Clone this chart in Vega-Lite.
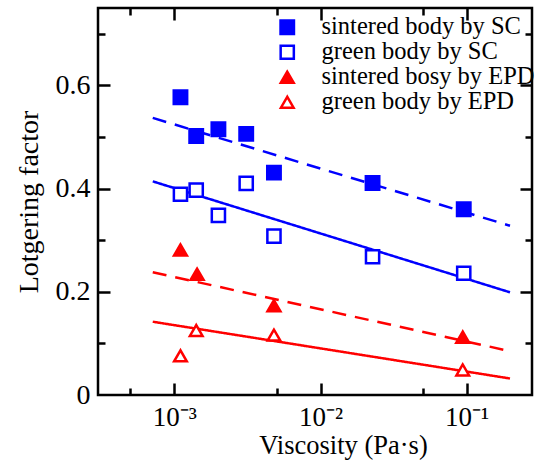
{
  "$schema": "https://vega.github.io/schema/vega-lite/v6.json",
  "width": 434,
  "height": 387,
  "autosize": "none",
  "padding": {"left": 98, "top": 8, "right": 5, "bottom": 71},
  "config": {
    "view": {"stroke": "black", "strokeWidth": 2.5},
    "font": "Liberation Serif",
    "axis": {
      "domain": false,
      "grid": false,
      "labelFont": "Liberation Serif",
      "titleFont": "Liberation Serif",
      "labelColor": "black",
      "titleColor": "black",
      "titleFontWeight": "normal",
      "tickColor": "black",
      "tickWidth": 2.5,
      "labelFlush": false,
      "labelOverlap": false
    },
    "legend": {
      "orient": "none",
      "legendX": 177,
      "legendY": 7,
      "padding": 0,
      "title": null,
      "labelFont": "Liberation Serif",
      "labelFontSize": 24.5,
      "labelColor": "black",
      "labelOffset": 22,
      "rowPadding": 0,
      "symbolStrokeWidth": 2.5,
      "labelLimit": 400
    }
  },
  "datasets": {
    "points": [
      {"series": "sintered body by SC", "viscosity": 0.0011, "factor": 0.577},
      {"series": "sintered body by SC", "viscosity": 0.00141, "factor": 0.502},
      {"series": "sintered body by SC", "viscosity": 0.002, "factor": 0.515},
      {"series": "sintered body by SC", "viscosity": 0.0031, "factor": 0.506},
      {"series": "sintered body by SC", "viscosity": 0.0048, "factor": 0.431},
      {"series": "sintered body by SC", "viscosity": 0.0227, "factor": 0.411},
      {"series": "sintered body by SC", "viscosity": 0.0955, "factor": 0.36},
      {"series": "green body by SC", "viscosity": 0.0011, "factor": 0.389},
      {"series": "green body by SC", "viscosity": 0.00141, "factor": 0.397},
      {"series": "green body by SC", "viscosity": 0.002, "factor": 0.348},
      {"series": "green body by SC", "viscosity": 0.0031, "factor": 0.41},
      {"series": "green body by SC", "viscosity": 0.0048, "factor": 0.308},
      {"series": "green body by SC", "viscosity": 0.0227, "factor": 0.268},
      {"series": "green body by SC", "viscosity": 0.0955, "factor": 0.236},
      {"series": "sintered bosy by EPD", "viscosity": 0.0011, "factor": 0.281},
      {"series": "sintered bosy by EPD", "viscosity": 0.00143, "factor": 0.234},
      {"series": "sintered bosy by EPD", "viscosity": 0.0048, "factor": 0.173},
      {"series": "sintered bosy by EPD", "viscosity": 0.094, "factor": 0.112},
      {"series": "green body by EPD", "viscosity": 0.0011, "factor": 0.076},
      {"series": "green body by EPD", "viscosity": 0.00141, "factor": 0.125},
      {"series": "green body by EPD", "viscosity": 0.0048, "factor": 0.116},
      {"series": "green body by EPD", "viscosity": 0.094, "factor": 0.0485}
    ],
    "fits": [
      {"method": "SC", "body": "sintered", "viscosity": 0.000711, "factor": 0.537},
      {"method": "SC", "body": "sintered", "viscosity": 0.198, "factor": 0.328},
      {"method": "SC", "body": "green", "viscosity": 0.000711, "factor": 0.414},
      {"method": "SC", "body": "green", "viscosity": 0.198, "factor": 0.199},
      {"method": "EPD", "body": "sintered", "viscosity": 0.000711, "factor": 0.238},
      {"method": "EPD", "body": "sintered", "viscosity": 0.198, "factor": 0.085},
      {"method": "EPD", "body": "green", "viscosity": 0.000711, "factor": 0.142},
      {"method": "EPD", "body": "green", "viscosity": 0.198, "factor": 0.032}
    ]
  },
  "layer": [
    {
      "data": {"name": "fits"},
      "mark": {"type": "line", "strokeWidth": 2.5},
      "encoding": {
        "x": {
          "field": "viscosity", "type": "quantitative",
          "scale": {"type": "log", "domain": [0.0003, 0.28], "nice": false},
          "axis": {
            "orient": "bottom", "values": [0.001, 0.01, 0.1], "ticks": false,
            "labelExpr": "datum.value < 0.005 ? '10⁻³' : (datum.value < 0.05 ? '10⁻²' : '10⁻¹')",
            "labelFontSize": 27, "labelPadding": 9,
            "title": "Viscosity (Pa·s)", "titleFontSize": 26.5, "titlePadding": 2, "titleX": 245
          }
        },
        "y": {
          "field": "factor", "type": "quantitative",
          "scale": {"domain": [0, 0.75], "nice": false},
          "axis": {
            "orient": "left", "values": [0, 0.2, 0.4, 0.6], "ticks": false,
            "labelExpr": "datum.value == 0 ? '0' : format(datum.value, '.1f')",
            "labelFontSize": 28, "labelPadding": 8,
            "title": "Lotgering factor", "titleFontSize": 28, "titlePadding": 12
          }
        },
        "color": {"field": "method", "type": "nominal", "scale": {"domain": ["SC", "EPD"], "range": ["#0000ff", "#ff0000"]}, "legend": null},
        "strokeDash": {"field": "body", "type": "nominal", "scale": {"domain": ["sintered", "green"], "range": [[14, 9], [1, 0]]}, "legend": null}
      }
    },
    {
      "data": {"name": "points"},
      "mark": {"type": "point", "strokeWidth": 2.5, "opacity": 1},
      "encoding": {
        "x": {
          "field": "viscosity", "type": "quantitative",
          "scale": {"type": "log", "domain": [0.0003, 0.28], "nice": false},
          "axis": {"orient": "bottom", "values": [0.001, 0.01, 0.1], "labels": false, "tickSize": -12, "title": null}
        },
        "y": {
          "field": "factor", "type": "quantitative",
          "scale": {"domain": [0, 0.75], "nice": false},
          "axis": {"orient": "left", "values": [0.2, 0.4, 0.6], "labels": false, "tickSize": -12, "title": null}
        },
        "shape": {"field": "series", "type": "nominal", "scale": {"domain": ["sintered body by SC", "green body by SC", "sintered bosy by EPD", "green body by EPD"], "range": ["square", "square", "triangle-up", "triangle-up"]}},
        "fill": {"field": "series", "type": "nominal", "scale": {"domain": ["sintered body by SC", "green body by SC", "sintered bosy by EPD", "green body by EPD"], "range": ["#0000ff", "#ffffff", "#ff0000", "#ffffff"]}},
        "stroke": {"field": "series", "type": "nominal", "scale": {"domain": ["sintered body by SC", "green body by SC", "sintered bosy by EPD", "green body by EPD"], "range": ["#0000ff", "#0000ff", "#ff0000", "#ff0000"]}},
        "size": {"field": "series", "type": "nominal", "scale": {"domain": ["sintered body by SC", "green body by SC", "sintered bosy by EPD", "green body by EPD"], "range": [180, 160, 270, 240]}}
      }
    },
    {
      "data": {"name": "fits"},
      "mark": {"type": "point", "opacity": 0},
      "encoding": {
        "x": {
          "field": "viscosity", "type": "quantitative",
          "scale": {"type": "log", "domain": [0.0003, 0.28], "nice": false},
          "axis": {"orient": "top", "values": [0.001, 0.01, 0.1], "labels": false, "tickSize": -12, "title": null}
        },
        "y": {
          "field": "factor", "type": "quantitative",
          "scale": {"domain": [0, 0.75], "nice": false},
          "axis": {"orient": "right", "values": [0.2, 0.4, 0.6], "labels": false, "tickSize": -12, "title": null}
        }
      }
    },
    {
      "data": {"name": "fits"},
      "mark": {"type": "point", "opacity": 0},
      "encoding": {
        "x": {
          "field": "viscosity", "type": "quantitative",
          "scale": {"type": "log", "domain": [0.0003, 0.28], "nice": false},
          "axis": {"orient": "bottom", "values": [0.0005, 0.005, 0.05], "labels": false, "tickSize": -7, "title": null}
        },
        "y": {
          "field": "factor", "type": "quantitative",
          "scale": {"domain": [0, 0.75], "nice": false},
          "axis": {"orient": "left", "values": [0.1, 0.3, 0.5, 0.7], "labels": false, "tickSize": -7, "title": null}
        }
      }
    },
    {
      "data": {"name": "fits"},
      "mark": {"type": "point", "opacity": 0},
      "encoding": {
        "x": {
          "field": "viscosity", "type": "quantitative",
          "scale": {"type": "log", "domain": [0.0003, 0.28], "nice": false},
          "axis": {"orient": "top", "values": [0.0005, 0.005, 0.05], "labels": false, "tickSize": -7, "title": null}
        },
        "y": {
          "field": "factor", "type": "quantitative",
          "scale": {"domain": [0, 0.75], "nice": false},
          "axis": {"orient": "right", "values": [0.1, 0.3, 0.5, 0.7], "labels": false, "tickSize": -7, "title": null}
        }
      }
    }
  ],
  "resolve": {"axis": {"x": "independent", "y": "independent"}}
}
